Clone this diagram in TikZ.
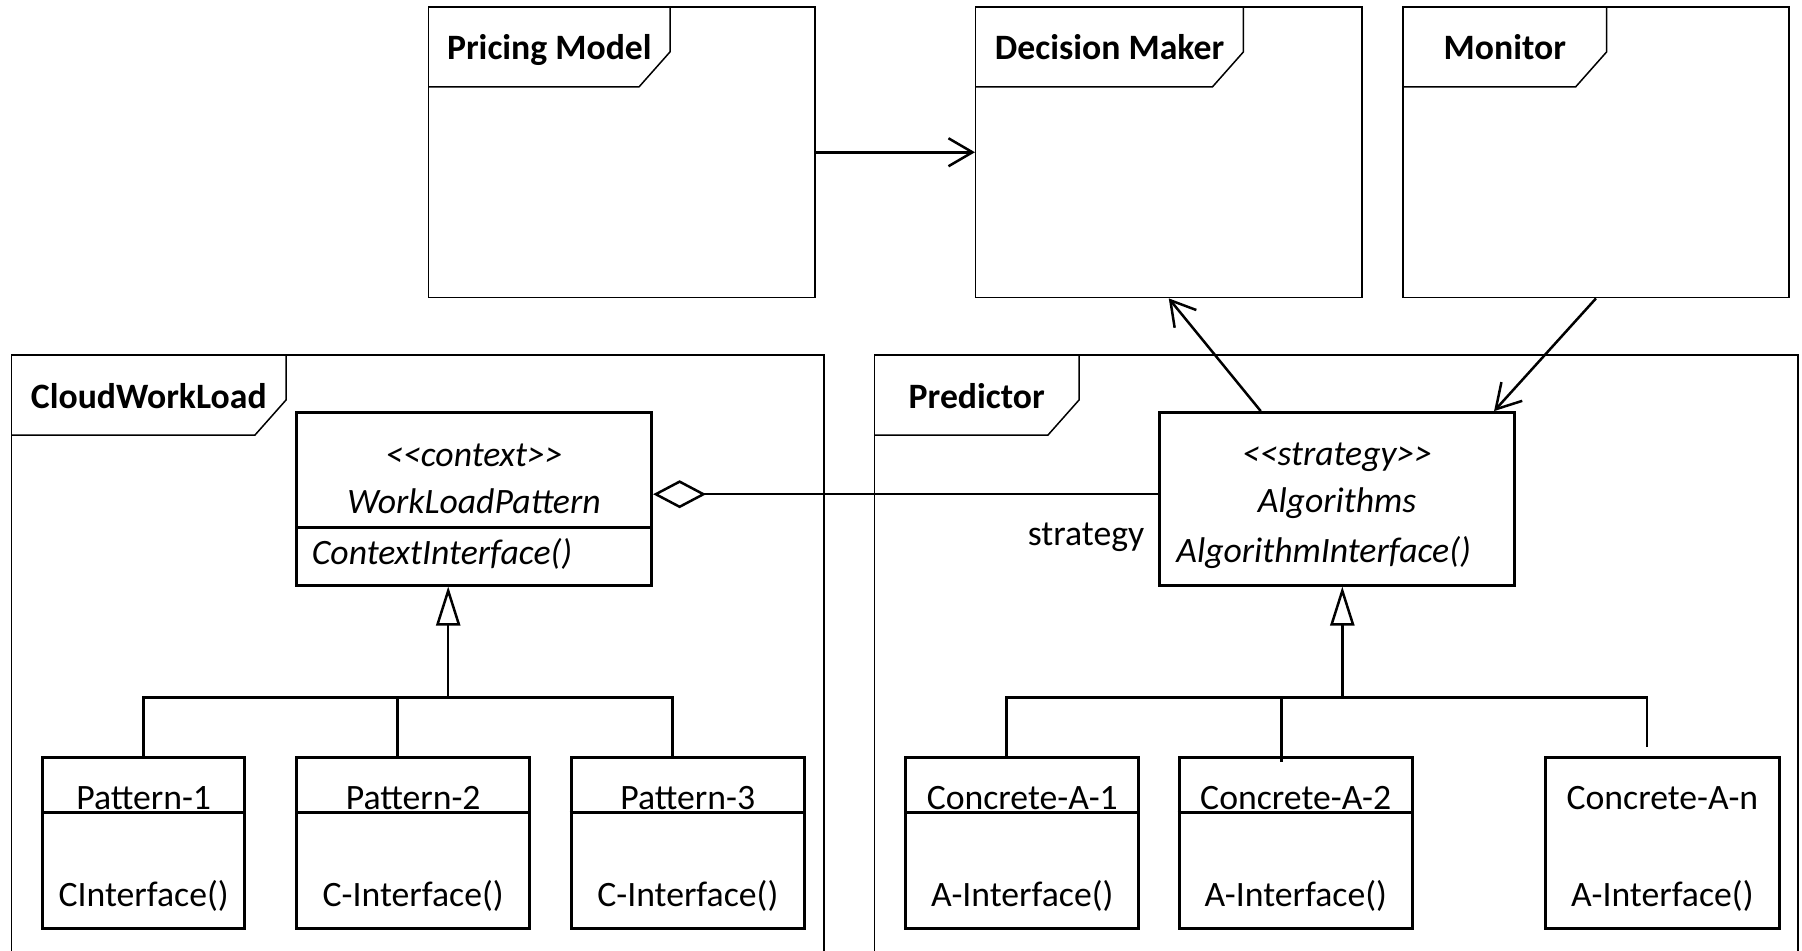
\documentclass[tikz,border=0pt]{standalone}
\usepackage{fontspec}
\setmainfont{Carlito}
\usetikzlibrary{arrows.meta,fit}

\begin{document}
\begin{tikzpicture}[x=0.5pt,y=-0.5pt,
  pkgframe/.style={draw, line width=0.75pt, inner sep=0pt},
  pkgtab/.style={draw, line width=0.75pt},
  pkgtitle/.style={font=\fontsize{17.85pt}{21pt}\selectfont\bfseries, anchor=base, inner sep=0pt},
  classbox/.style={draw, line width=1.5pt, inner sep=0pt},
  divider/.style={line width=1.5pt},
  txt/.style={font=\fontsize{17.85pt}{21pt}\selectfont, anchor=base, inner sep=0pt},
  itxt/.style={txt, font=\fontsize{17.85pt}{21pt}\selectfont\itshape},
  conn/.style={line width=1.25pt},
  assoc/.style={conn, -{Straight Barb[length=12pt,width=14pt]}},
  inherit/.style={conn, -{Triangle[open, length=19.5pt, width=12pt]}},
  aggr/.style={conn, {Diamond[open, length=26.5pt, width=14pt]}-}
]
\useasboundingbox (0,0) rectangle (1802,950);
\clip (0,0) rectangle (1802,950);

% ---------- packages ----------
\node[pkgframe, fit={(428.7,6.9) (814.8,297.6)}] (pm) {};
\draw[pkgtab] (428.7,86.9) -- (639,86.9) -- (670,51.9) -- (670,6.9);
\node[pkgtitle] (pmt) at (549.35,59.9) {Pricing Model};

\node[pkgframe, fit={(975.7,6.9) (1361.8,297.6)}] (dm) {};
\draw[pkgtab] (975.7,86.9) -- (1212.4,86.9) -- (1243.4,51.9) -- (1243.4,6.9);
\node[pkgtitle] (dmt) at (1109.55,59.9) {Decision Maker};

\node[pkgframe, fit={(1403,6.9) (1789,297.6)}] (mon) {};
\draw[pkgtab] (1403,86.9) -- (1575.6,86.9) -- (1606.6,51.9) -- (1606.6,6.9);
\node[pkgtitle] (mont) at (1504.8,59.9) {Monitor};

\node[pkgframe, fit={(11.5,355) (824,970)}] (cwl) {};
\draw[pkgtab] (11.5,435) -- (255,435) -- (286,400) -- (286,355);
\node[pkgtitle] (cwlt) at (148.75,408) {CloudWorkLoad};

\node[pkgframe, fit={(874.5,355) (1798,970)}] (pred) {};
\draw[pkgtab] (874.5,435) -- (1048,435) -- (1079,400) -- (1079,355);
\node[pkgtitle] (predt) at (976.75,408) {Predictor};

% ---------- context class ----------
\node[classbox, fit={(296.5,412.6) (651.6,585)}] (wlp) {};
\draw[divider] ([yshift=-58pt]wlp.north west) -- ([yshift=-58pt]wlp.north east);
\node[itxt] (wlps) at (474.05,466) {<\kern0pt<context>\kern0pt>};
\node[itxt] (wlpn) at (474.05,513) {WorkLoadPattern};
\node[itxt, anchor=base west] (wlpm) at (311.4,564) {ContextInterface()};

% ---------- strategy class ----------
\node[classbox, fit={(1159.5,412.6) (1514.6,585)}] (alg) {};
\node[itxt] (algs) at (1337.05,465) {<\kern0pt<strategy>\kern0pt>};
\node[itxt] (algn) at (1337.05,512) {Algorithms};
\node[itxt, anchor=base west] (algm) at (1176,562) {AlgorithmInterface()};

\node[txt, anchor=base east] (strat) at (1144.6,545) {strategy};

% ---------- concrete patterns ----------
\node[classbox, fit={(42.5,757.3) (244.8,928.6)}] (p1) {};
\node[classbox, fit={(296.5,757.3) (529.8,928.6)}] (p2) {};
\node[classbox, fit={(571.2,757.3) (804.4,928.6)}] (p3) {};
\foreach \b in {p1,p2,p3}
  \draw[divider] ([yshift=-28.15pt]\b.north west) -- ([yshift=-28.15pt]\b.north east);
\node[txt] (p1n) at (143.65,809) {Pattern-1};
\node[txt] (p1m) at (143.65,906.5) {CInterface()};
\node[txt] (p2n) at (413.15,809) {Pattern-2};
\node[txt] (p2m) at (413.15,906.5) {C-Interface()};
\node[txt] (p3n) at (687.8,809) {Pattern-3};
\node[txt] (p3m) at (687.8,906.5) {C-Interface()};

% ---------- concrete algorithms ----------
\node[classbox, fit={(905.6,757.3) (1138.9,928.6)}] (a1) {};
\node[classbox, fit={(1179,757.3) (1412.4,928.6)}] (a2) {};
\node[classbox, fit={(1545.7,757.3) (1779,928.6)}] (an) {};
\foreach \b in {a1,a2}
  \draw[divider] ([yshift=-28.15pt]\b.north west) -- ([yshift=-28.15pt]\b.north east);
\node[txt] (a1n) at (1022.25,809) {Concrete-A-1};
\node[txt] (a1m) at (1022.25,906.5) {A-Interface()};
\node[txt] (a2n) at (1295.7,809) {Concrete-A-2};
\node[txt] (a2m) at (1295.7,906.5) {A-Interface()};
\node[txt] (ann) at (1662.35,809) {Concrete-A-n};
\node[txt] (anm) at (1662.35,906.5) {A-Interface()};

% ---------- connectors ----------
\draw[assoc] (pm.east) -- (dm.west);
\draw[assoc] ([xshift=-38.15pt]alg.north) -- (dm.south);
\draw[assoc] (mon.south) -- ([xshift=78.5pt]alg.north);
\draw[aggr] ([yshift=2.3pt]wlp.east) -- ([yshift=2.3pt]alg.west);

% generalisation of the patterns
\coordinate (busL) at (448.2,697.6);
\coordinate (d2) at ([xshift=-7.8pt]p2.north);
\coordinate (d3) at ([xshift=-7.75pt]p3.north);
\draw[inherit] (busL) -- (busL |- wlp.south);
\draw[conn] (p1.north) |- (busL);
\draw[conn] (d3) |- (busL);
\draw[conn] (d2) -- (d2 |- busL);

% generalisation of the algorithms
\coordinate (busR) at (1342.3,697.6);
\coordinate (e1) at ([xshift=-7.8pt]a1.north);
\coordinate (e2) at ([xshift=-7.15pt,yshift=-2.85pt]a2.north);
\coordinate (en) at ([xshift=-7.8pt,yshift=4.4pt]an.north);
\draw[inherit] (busR) -- (busR |- alg.south);
\draw[conn] (e1) |- (busR);
\draw[conn] (en) |- (busR);
\draw[conn] (e2) -- (e2 |- busR);
\end{tikzpicture}
\end{document}
